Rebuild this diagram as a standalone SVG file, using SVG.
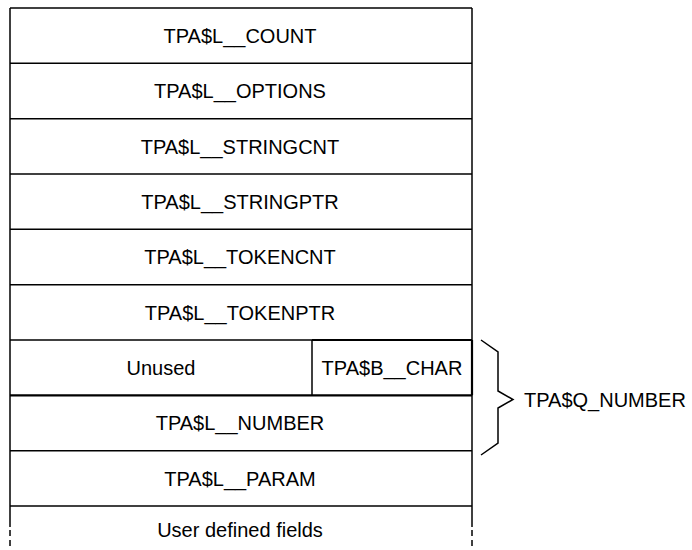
<svg xmlns="http://www.w3.org/2000/svg" width="692" height="550" viewBox="0 0 692 550">
<style>
.ln{stroke:#000;stroke-width:1.5;fill:none}
.thk{stroke:#000;stroke-width:2.2;fill:none}
.dash{stroke:#000;stroke-width:1.5;fill:none;stroke-dasharray:6,4}
.t{font-family:"Liberation Sans",Arial,sans-serif;font-size:20px;fill:#000;text-anchor:middle}
.tl{font-family:"Liberation Sans",Arial,sans-serif;font-size:20px;fill:#000}
</style>
<rect width="692" height="550" fill="#fff"/>
<g id="frame">
<line class="ln" x1="10" y1="8" x2="472" y2="8"/>
<line class="ln" x1="10" y1="8" x2="10" y2="527"/>
<line class="ln" x1="472" y1="8" x2="472" y2="527"/>
<line class="dash" x1="10" y1="530" x2="10" y2="550"/>
<line class="dash" x1="472" y1="530" x2="472" y2="550"/>
</g>
<g id="count">
<line class="ln" x1="10" y1="63.3" x2="472" y2="63.3"/>
<text class="t" x="240" y="43">TPA$L__COUNT</text>
</g>
<g id="options">
<line class="ln" x1="10" y1="118.7" x2="472" y2="118.7"/>
<text class="t" x="240" y="98.3">TPA$L__OPTIONS</text>
</g>
<g id="stringcnt">
<line class="ln" x1="10" y1="174" x2="472" y2="174"/>
<text class="t" x="240" y="153.7">TPA$L__STRINGCNT</text>
</g>
<g id="stringptr">
<line class="ln" x1="10" y1="229.3" x2="472" y2="229.3"/>
<text class="t" x="240" y="209">TPA$L__STRINGPTR</text>
</g>
<g id="tokencnt">
<line class="ln" x1="10" y1="284.7" x2="472" y2="284.7"/>
<text class="t" x="240" y="264.3">TPA$L__TOKENCNT</text>
</g>
<g id="tokenptr">
<line class="ln" x1="10" y1="340" x2="472" y2="340"/>
<text class="t" x="240" y="319.7">TPA$L__TOKENPTR</text>
</g>
<g id="unused">
<text class="t" x="161" y="375">Unused</text>
</g>
<g id="char">
<line class="thk" x1="312" y1="340" x2="472" y2="340"/>
<line class="ln" x1="312" y1="340" x2="312" y2="395.3"/>
<line class="thk" x1="472" y1="340" x2="472" y2="395.3"/>
<text class="t" x="392" y="375">TPA$B__CHAR</text>
</g>
<g id="number">
<line class="thk" x1="10" y1="395.3" x2="472" y2="395.3"/>
<text class="t" x="240" y="430.3">TPA$L__NUMBER</text>
</g>
<g id="param">
<line class="ln" x1="10" y1="450.7" x2="472" y2="450.7"/>
<text class="t" x="240" y="485.7">TPA$L__PARAM</text>
</g>
<g id="user">
<line class="ln" x1="10" y1="506" x2="472" y2="506"/>
<text class="t" x="240" y="537">User defined fields</text>
</g>
<g id="connectors">
<path class="ln" d="M481,340 L498,352 L498,391 L513,399.5 L498,408 L498,443 L481,455"/>
</g>
<g id="qnumber">
<text class="tl" x="524" y="407">TPA$Q_NUMBER</text>
</g>
</svg>
